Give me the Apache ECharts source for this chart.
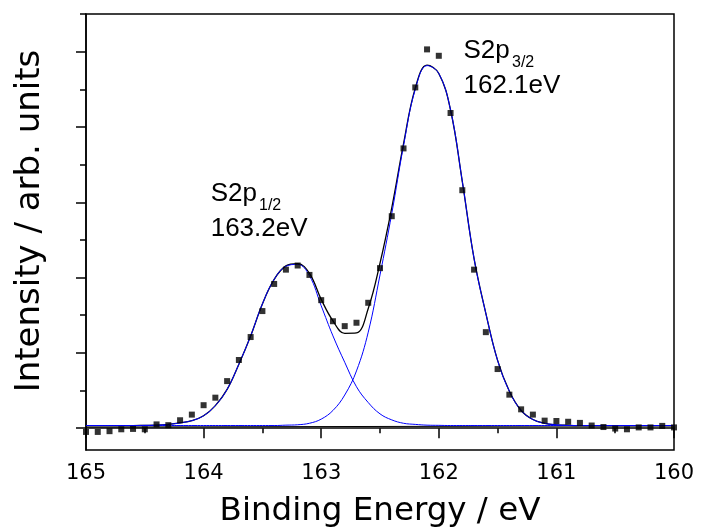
<!DOCTYPE html>
<html lang="en">
<head>
    <meta charset="UTF-8">
    <title>S2p XPS</title>
    <script src="https://cdn.jsdelivr.net/npm/echarts@6/dist/echarts.min.js"></script>
    <style>
        html, body { margin: 0; padding: 0; background: #fff; }
        #chart { width: 701px; height: 529px; }
    </style>
</head>
<body>
    <div id="chart"></div>
<script>
    // binding energy grid, eV
    var energy = [165.0, 164.9, 164.8, 164.7, 164.6, 164.5, 164.4, 164.3, 164.2, 164.1,
        164.0, 163.9, 163.8, 163.7, 163.6, 163.5, 163.4, 163.3, 163.2, 163.1,
        163.0, 162.9, 162.8, 162.7, 162.6, 162.5, 162.4, 162.3, 162.2, 162.1,
        162.0, 161.9, 161.8, 161.7, 161.6, 161.5, 161.4, 161.3, 161.2, 161.1,
        161.0, 160.9, 160.8, 160.7, 160.6, 160.5, 160.4, 160.3, 160.2, 160.1, 160.0];

    // measured points (arb. units)
    var measured = [-0.10, -0.10, -0.08, -0.03, -0.02, -0.03, 0.10, 0.08, 0.21, 0.36,
        0.61, 0.81, 1.25, 1.81, 2.42, 3.11, 3.83, 4.21, 4.32, 4.07,
        3.40, 2.84, 2.71, 2.80, 3.33, 4.25, 5.63, 7.43, 9.05, 10.06,
        9.89, 8.37, 6.32, 4.21, 2.55, 1.57, 0.89, 0.50, 0.36, 0.20,
        0.19, 0.17, 0.14, 0.07, 0.03, -0.01, -0.03, 0.02, 0.02, 0.06, 0.02];

    // S2p 1/2 component
    var peakHalf = [0.07, 0.07, 0.07, 0.07, 0.07, 0.075, 0.08, 0.10, 0.14, 0.20,
        0.33, 0.60, 1.03, 1.70, 2.45, 3.30, 3.95, 4.30, 4.35, 4.05,
        3.25, 2.45, 1.75, 1.10, 0.68, 0.38, 0.22, 0.13, 0.10, 0.08,
        0.075, 0.07, 0.07, 0.07, 0.07, 0.07, 0.07, 0.07, 0.07, 0.07,
        0.07, 0.07, 0.07, 0.07, 0.07, 0.07, 0.07, 0.07, 0.07, 0.07, 0.07];

    // S2p 3/2 component
    var peakThreeHalf = [0.07, 0.07, 0.07, 0.07, 0.07, 0.07, 0.07, 0.07, 0.07, 0.07,
        0.07, 0.07, 0.07, 0.07, 0.07, 0.07, 0.07, 0.08, 0.09, 0.13,
        0.24, 0.47, 0.88, 1.52, 2.55, 4.07, 5.70, 7.50, 9.00, 9.63,
        9.42, 8.45, 6.55, 4.50, 3.05, 1.80, 0.98, 0.47, 0.23, 0.13,
        0.09, 0.075, 0.07, 0.07, 0.07, 0.07, 0.07, 0.07, 0.07, 0.07, 0.07];

    // sum of the fit
    var envelope = [0.07, 0.07, 0.07, 0.07, 0.07, 0.075, 0.08, 0.10, 0.14, 0.20,
        0.33, 0.60, 1.03, 1.70, 2.45, 3.30, 3.95, 4.31, 4.37, 4.11,
        3.42, 2.85, 2.52, 2.53, 3.18, 4.38, 5.85, 7.55, 9.03, 9.64,
        9.42, 8.45, 6.55, 4.50, 3.05, 1.80, 0.98, 0.47, 0.23, 0.13,
        0.09, 0.075, 0.07, 0.07, 0.07, 0.07, 0.07, 0.07, 0.07, 0.07, 0.07];

    var baseEnergy = [165, 160];
    var baseValue = [0.03, 0.06];

    var majorTicks = [0, 2, 4, 6, 8, 10];
    var minorTicks = [1, 3, 5, 7, 9, 11];

    function pairs(xs, ys) {
        return xs.map(function (x, i) { return [x, ys[i]]; });
    }

    var axisFont = 'DejaVu Sans';
    var labelFont = '"Liberation Sans", Arial, sans-serif';

    var chart = echarts.init(document.getElementById('chart'));
    chart.setOption({
        animation: false,
        grid: {
            left: 86, right: 27, top: 14, bottom: 79,
            outerBoundsMode: 'none',
            show: true, borderColor: '#000', borderWidth: 1.5
        },
        xAxis: {
            type: 'value',
            min: 160, max: 165, interval: 1,
            inverse: true,
            axisLine: { lineStyle: { color: '#000', width: 1.5 } },
            axisTick: { length: 10, lineStyle: { color: '#000', width: 1.5 } },
            minorTick: { show: true, splitNumber: 2, length: 5, lineStyle: { color: '#000', width: 1.5 } },
            splitLine: { show: false },
            axisLabel: { color: '#000', fontSize: 21, fontFamily: axisFont, margin: 13 },
            name: 'Binding Energy / eV',
            nameLocation: 'middle',
            nameGap: 45,
            nameTextStyle: { color: '#000', fontSize: 32.5, fontFamily: axisFont }
        },
        yAxis: [{
            type: 'value',
            position: 'left',
            min: -0.58, max: 11,
            axisLine: { show: true, lineStyle: { color: '#000', width: 1.5 } },
            axisTick: { show: true, length: 10, customValues: majorTicks, lineStyle: { color: '#000', width: 1.5 } },
            axisLabel: { show: false },
            splitLine: { show: false }
        }, {
            type: 'value',
            position: 'left',
            min: -0.58, max: 11,
            axisLine: { show: false },
            axisTick: { show: true, length: 6, customValues: minorTicks, lineStyle: { color: '#000', width: 1.5 } },
            axisLabel: { show: false },
            splitLine: { show: false }
        }],
        series: [{
            type: 'line',
            data: pairs(baseEnergy, baseValue),
            showSymbol: false,
            lineStyle: { color: '#000', width: 1 }
        }, {
            type: 'line',
            data: pairs(energy, envelope),
            showSymbol: false,
            smooth: 0.4,
            lineStyle: { color: '#000', width: 1.3 }
        }, {
            type: 'line',
            data: pairs(energy, peakHalf),
            showSymbol: false,
            smooth: 0.4,
            lineStyle: { color: '#0000ff', width: 1 }
        }, {
            type: 'line',
            data: pairs(energy, peakThreeHalf),
            showSymbol: false,
            smooth: 0.4,
            lineStyle: { color: '#0000ff', width: 1 }
        }, {
            type: 'scatter',
            data: pairs(energy, measured),
            symbol: 'rect',
            symbolSize: 6,
            itemStyle: { color: '#000' },
            z: 5
        }],
        graphic: [
            // y axis title, rotated
            { type: 'text', x: 30, y: 221, rotation: Math.PI / 2, style: { text: 'Intensity / arb. units', font: '34px "DejaVu Sans"', fill: '#000', align: 'center', verticalAlign: 'middle' } },
            { type: 'text', x: 210.7, y: 194, style: { text: 'S2p', font: '26px ' + labelFont, fill: '#000', verticalAlign: 'middle' } },
            { type: 'text', x: 259, y: 206, style: { text: '1/2', font: '16px ' + labelFont, fill: '#000', verticalAlign: 'middle' } },
            { type: 'text', x: 210.7, y: 229, style: { text: '163.2eV', font: '26px ' + labelFont, fill: '#000', verticalAlign: 'middle' } },
            { type: 'text', x: 463.5, y: 51, style: { text: 'S2p', font: '26px ' + labelFont, fill: '#000', verticalAlign: 'middle' } },
            { type: 'text', x: 512, y: 63, style: { text: '3/2', font: '16px ' + labelFont, fill: '#000', verticalAlign: 'middle' } },
            { type: 'text', x: 463.5, y: 86, style: { text: '162.1eV', font: '26px ' + labelFont, fill: '#000', verticalAlign: 'middle' } }
        ]
    });
</script>
</body>
</html>
